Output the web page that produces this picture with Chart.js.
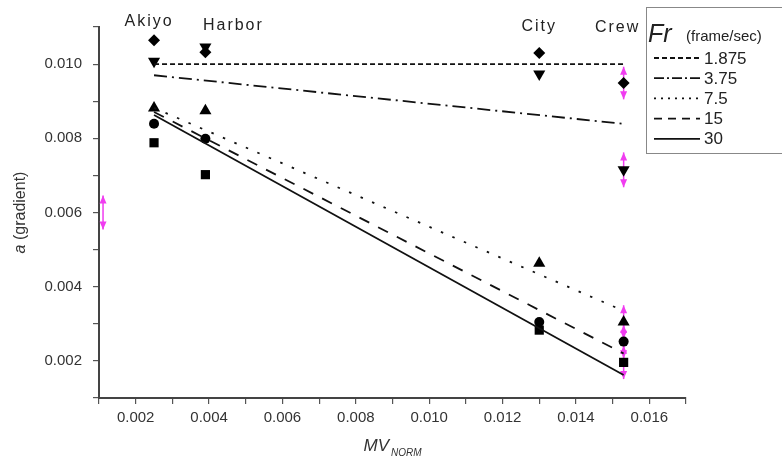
<!DOCTYPE html>
<html>
<head>
<meta charset="utf-8">
<script src="https://cdn.jsdelivr.net/npm/chart.js@4.4.1/dist/chart.umd.min.js"></script>
<style>
  html, body { margin: 0; padding: 0; background: #fff; }
  #chart { display: block; }
</style>
</head>
<body>
<canvas id="chart" width="782" height="462"></canvas>
<script>
// sequences and their MV_NORM position
const categories = ['Akiyo', 'Harbor', 'City', 'Crew'];
const mvNorm = [0.0025, 0.0039, 0.0130, 0.0153];

// frame rates (legend)
const frLabels = ['1.875', '3.75', '7.5', '15', '30'];

// measured gradients, one array per frame rate
const a1875 = [0.01064, 0.01032, 0.01030, 0.00949];
const a375 = [0.01008, 0.01046, 0.00973, 0.00715];
const a75 = [0.00882, 0.00874, 0.00463, 0.00305];
const a15 = [0.00839, 0.00799, 0.00305, 0.00252];
const a30 = [0.00788, 0.00702, 0.00283, 0.00196];

// fitted lines, value at first and last sequence
const fitStart = [0.01000, 0.00970, 0.00882, 0.00871, 0.00863];
const fitEnd = [0.01000, 0.00839, 0.00335, 0.00220, 0.00162];

// magenta error bars on Crew, plus the stray one near the y axis
const crewErr = [0.00044, 0.00047, 0.00045, 0.00045, 0.00045];
const strayX = [0.00111];
const strayY = [0.00600];
const strayErr = [0.00046];

const xTickLabels = ['0.002', '0.004', '0.006', '0.008', '0.010', '0.012', '0.014', '0.016'];
const yTickLabels = ['0.002', '0.004', '0.006', '0.008', '0.010'];

const measured = [a1875, a375, a75, a15, a30];
const markerStyles = [
  { pointStyle: 'rectRot', radius: 6, rotation: 0 },
  { pointStyle: 'triangle', radius: 7, rotation: 180 },
  { pointStyle: 'triangle', radius: 7, rotation: 0 },
  { pointStyle: 'circle', radius: 5, rotation: 0 },
  { pointStyle: 'rect', radius: 6.5, rotation: 0 }
];
const dashes = [[5, 3], [13, 5, 2, 5], [2.5, 10], [11, 10], []];

const datasets = [];
frLabels.forEach((fr, i) => {
  datasets.push({
    type: 'line',
    label: fr,
    data: [{ x: mvNorm[0], y: fitStart[i] }, { x: mvNorm[3], y: fitEnd[i] }],
    borderColor: '#111',
    borderWidth: 1.8,
    borderDash: dashes[i],
    pointRadius: 0,
    fill: false
  });
});
measured.forEach((vals, i) => {
  datasets.push({
    type: 'scatter',
    label: 'pts ' + frLabels[i],
    data: vals.map((v, j) => ({ x: mvNorm[j], y: v })),
    showLine: false,
    pointStyle: markerStyles[i].pointStyle,
    pointRadius: markerStyles[i].radius,
    rotation: markerStyles[i].rotation,
    backgroundColor: '#000',
    borderColor: '#000',
    borderWidth: 0
  });
});

function arrowBar(ctx, x, yTop, yBot) {
  ctx.beginPath();
  ctx.moveTo(x, yTop);
  ctx.lineTo(x, yBot);
  ctx.stroke();
  ctx.beginPath();
  ctx.moveTo(x, yTop);
  ctx.lineTo(x - 3.5, yTop + 8);
  ctx.lineTo(x + 3.5, yTop + 8);
  ctx.closePath();
  ctx.fill();
  ctx.beginPath();
  ctx.moveTo(x, yBot);
  ctx.lineTo(x - 3.5, yBot - 8);
  ctx.lineTo(x + 3.5, yBot - 8);
  ctx.closePath();
  ctx.fill();
}

const errorBars = {
  id: 'errorBars',
  beforeDatasetsDraw(chart) {
    const { ctx, scales: { x, y } } = chart;
    ctx.save();
    ctx.strokeStyle = '#f03cf0';
    ctx.fillStyle = '#f03cf0';
    ctx.lineWidth = 1.5;
    measured.forEach((vals, i) => {
      const px = x.getPixelForValue(mvNorm[3]);
      arrowBar(ctx, px, y.getPixelForValue(vals[3] + crewErr[i]), y.getPixelForValue(vals[3] - crewErr[i]));
    });
    strayX.forEach((sx, i) => {
      arrowBar(ctx, x.getPixelForValue(sx), y.getPixelForValue(strayY[i] + strayErr[i]), y.getPixelForValue(strayY[i] - strayErr[i]));
    });
    ctx.restore();
  }
};

const decorations = {
  id: 'decorations',
  afterDraw(chart) {
    const { ctx, scales: { x, y }, chartArea } = chart;
    ctx.save();

    // sequence names above the points
    const offX = [-5, 28, 0, -6];
    const offY = [22, 26, 27, 28];
    ctx.font = '16px "Liberation Sans", Arial, sans-serif';
    ctx.letterSpacing = '2px';
    ctx.fillStyle = '#222';
    ctx.textAlign = 'center';
    ctx.textBaseline = 'middle';
    categories.forEach((c, i) => {
      ctx.fillText(c, x.getPixelForValue(mvNorm[i]) + offX[i], offY[i]);
    });
    ctx.letterSpacing = '0px';

    // y title: a (gradient)
    ctx.save();
    ctx.translate(21, (chartArea.top + chartArea.bottom) / 2);
    ctx.rotate(-Math.PI / 2);
    ctx.textAlign = 'left';
    ctx.textBaseline = 'middle';
    ctx.fillStyle = '#333';
    ctx.font = 'italic 16px "Liberation Sans", Arial, sans-serif';
    const wa = ctx.measureText('a').width;
    ctx.font = '16px "Liberation Sans", Arial, sans-serif';
    const wr = ctx.measureText(' (gradient)').width;
    const sx = -(wa + wr) / 2;
    ctx.font = 'italic 16px "Liberation Sans", Arial, sans-serif';
    ctx.fillText('a', sx, 0);
    ctx.font = '16px "Liberation Sans", Arial, sans-serif';
    ctx.fillText(' (gradient)', sx + wa, 0);
    ctx.restore();

    // x title: MV_NORM
    ctx.fillStyle = '#333';
    ctx.textAlign = 'left';
    ctx.textBaseline = 'alphabetic';
    ctx.font = 'italic 17px "Liberation Sans", Arial, sans-serif';
    const wmv = ctx.measureText('MV').width;
    ctx.font = 'italic 10px "Liberation Sans", Arial, sans-serif';
    const wn = ctx.measureText('NORM').width;
    const cx = (chartArea.left + chartArea.right) / 2 - (wmv + wn + 2) / 2;
    ctx.font = 'italic 17px "Liberation Sans", Arial, sans-serif';
    ctx.fillText('MV', cx, 451);
    ctx.font = 'italic 10px "Liberation Sans", Arial, sans-serif';
    ctx.fillText('NORM', cx + wmv + 2, 456);

    // legend box
    ctx.strokeStyle = '#888';
    ctx.lineWidth = 1;
    ctx.strokeRect(646.5, 7.5, 160, 146);
    ctx.fillStyle = '#222';
    ctx.font = 'italic 25px "Liberation Sans", Arial, sans-serif';
    ctx.fillText('Fr', 648, 42);
    ctx.font = '15px "Liberation Sans", Arial, sans-serif';
    ctx.fillText('(frame/sec)', 686, 41);
    ctx.font = '17px "Liberation Sans", Arial, sans-serif';
    ctx.textBaseline = 'middle';
    ctx.strokeStyle = '#111';
    ctx.lineWidth = 1.8;
    frLabels.forEach((fr, i) => {
      const ly = 58 + i * 20.2;
      ctx.setLineDash(i === 1 ? [10, 3, 2, 3] : i === 2 ? [2, 5] : i === 3 ? [8, 6] : dashes[i]);
      ctx.beginPath();
      ctx.moveTo(654, ly);
      ctx.lineTo(700, ly);
      ctx.stroke();
      ctx.fillText(fr, 704, ly + 1);
    });
    ctx.setLineDash([]);
    ctx.restore();
  }
};

const tickFont = { family: '"Liberation Sans", Arial, sans-serif', size: 15 };

new Chart(document.getElementById('chart'), {
  type: 'scatter',
  data: { datasets },
  options: {
    responsive: false,
    animation: false,
    layout: { padding: { top: 27, right: 96, left: 0, bottom: 0 } },
    plugins: { legend: { display: false }, tooltip: { enabled: false } },
    scales: {
      x: {
        type: 'linear',
        min: 0.001,
        max: 0.017,
        afterFit: s => { s.height = 64; },
        border: { display: true, color: '#444', width: 2 },
        grid: { drawOnChartArea: false, drawTicks: true, tickLength: 6, color: '#555', lineWidth: 1.2 },
        ticks: {
          stepSize: 0.001,
          autoSkip: false,
          maxRotation: 0,
          padding: 5,
          color: '#333',
          font: tickFont,
          callback: v => {
            const s = v.toFixed(3);
            return xTickLabels.includes(s) ? s : '';
          }
        }
      },
      y: {
        type: 'linear',
        min: 0.001,
        max: 0.011,
        afterFit: s => { s.width = 99; },
        border: { display: true, color: '#444', width: 2 },
        grid: { drawOnChartArea: false, drawTicks: true, tickLength: 6, color: '#555', lineWidth: 1.2 },
        ticks: {
          stepSize: 0.001,
          autoSkip: false,
          padding: 11,
          color: '#333',
          font: tickFont,
          callback: v => {
            const s = v.toFixed(3);
            return yTickLabels.includes(s) ? s : '';
          }
        }
      }
    }
  },
  plugins: [errorBars, decorations]
});
</script>
</body>
</html>
